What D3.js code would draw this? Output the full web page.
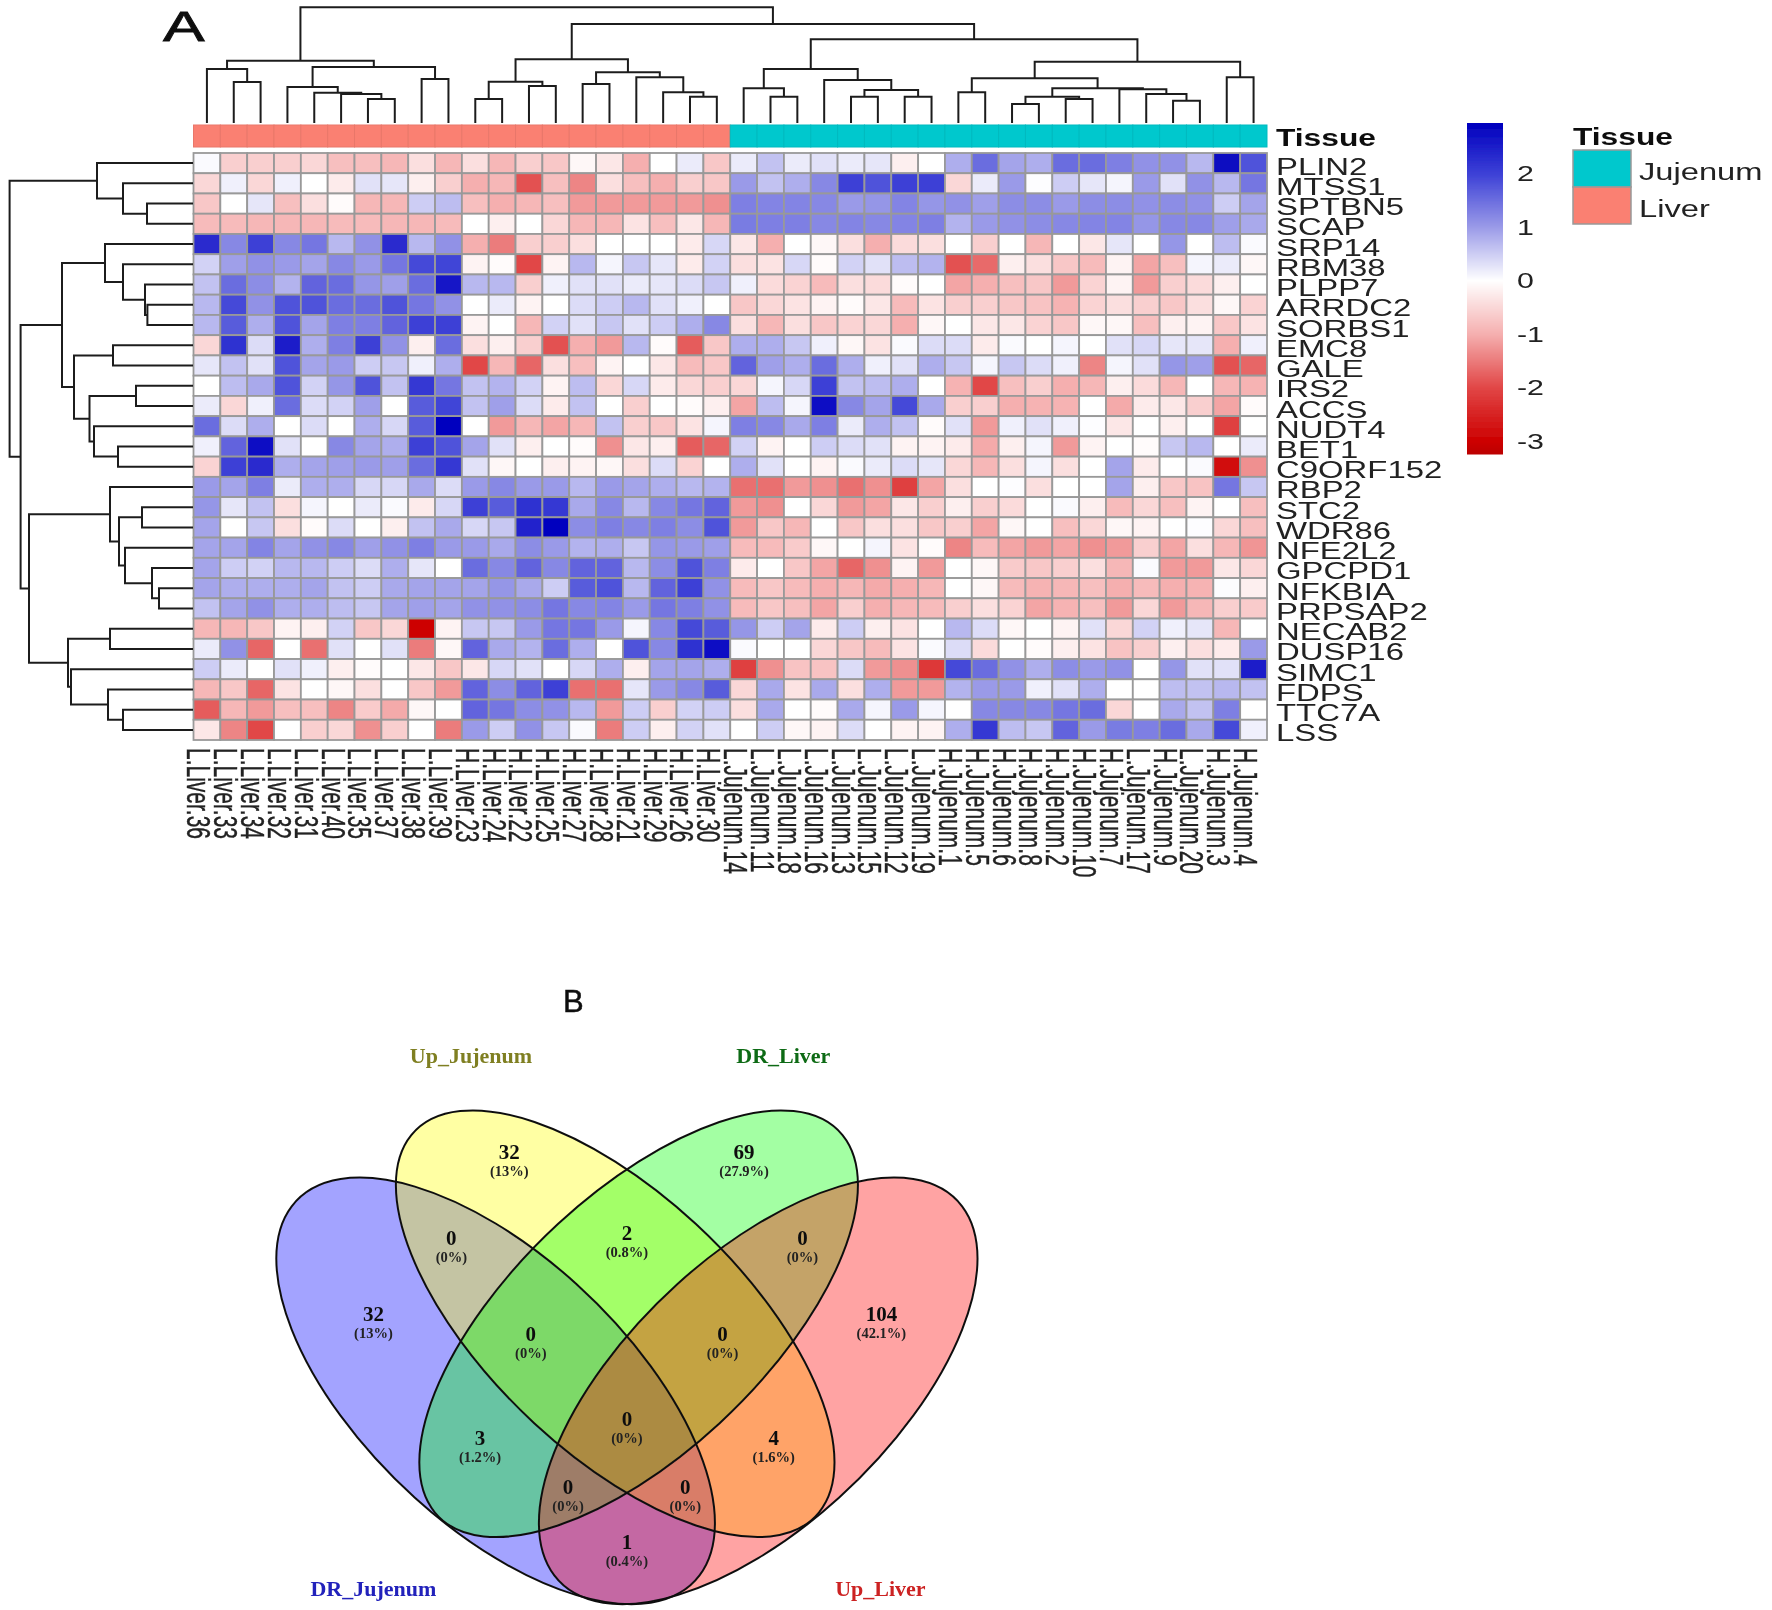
<!DOCTYPE html>
<html><head><meta charset="utf-8">
<script src="https://cdn.jsdelivr.net/npm/d3@7/dist/d3.min.js"></script>
<style>html,body{margin:0;padding:0;background:#fff}svg{display:block}</style>
</head><body><svg id="c" width="1772" height="1610"></svg>
<script>
const genes=["PLIN2","MTSS1","SPTBN5","SCAP","SRP14","RBM38","PLPP7","ARRDC2","SORBS1","EMC8","GALE","IRS2","ACCS","NUDT4","BET1","C9ORF152","RBP2","STC2","WDR86","NFE2L2","GPCPD1","NFKBIA","PRPSAP2","NECAB2","DUSP16","SIMC1","FDPS","TTC7A","LSS"];
const samples=["L.Liver.36","L.Liver.33","L.Liver.34","L.Liver.32","L.Liver.31","L.Liver.40","L.Liver.35","L.Liver.37","L.Liver.38","L.Liver.39","H.Liver.23","H.Liver.24","H.Liver.22","H.Liver.25","H.Liver.27","H.Liver.28","H.Liver.21","H.Liver.29","H.Liver.26","H.Liver.30","L.Jujenum.14","L.Jujenum.11","L.Jujenum.18","L.Jujenum.16","L.Jujenum.13","L.Jujenum.15","L.Jujenum.12","L.Jujenum.19","H.Jujenum.1","H.Jujenum.5","H.Jujenum.6","H.Jujenum.8","H.Jujenum.2","H.Jujenum.10","H.Jujenum.7","L.Jujenum.17","H.Jujenum.9","L.Jujenum.20","H.Jujenum.3","H.Jujenum.4"];
const tissue=samples.map(s=>s.includes("Liver")?"Liver":"Jujenum");
const expr=[
[.05,-.6,-.6,-.6,-.5,-.8,-.8,-.9,-.4,-.9,-.4,-.9,-.6,-.7,-.1,-.3,-1,0,.2,-.7,.2,.6,.2,.3,.2,.25,-.2,0,.8,1.5,.9,.8,1.5,1.5,1.3,1.1,1.1,.7,2.8,1.8],
[-.5,.15,-.5,.15,0,-.25,.3,.25,-.2,-.6,-1,-.9,-1.9,-.8,-1.4,-.4,-.8,-1,-.6,-.7,1,.6,.8,1.2,2,1.8,2,2,-.5,.2,1,.02,.5,.25,.1,1,.3,1.1,.7,1.4],
[-.7,0,.25,-.8,-.4,-.05,-.9,-.9,.5,.65,-.8,-1,-.9,-.8,-1.2,-1.2,-1.2,-1.2,-1.2,-1.3,1.3,1.25,1.25,1.2,1,1.05,1.25,1.05,1.1,.95,1.15,1.15,1,1.15,1.15,1.1,1.15,1.1,.5,.9],
[-.85,-.85,-.9,-.9,-.9,-.85,-.85,-.9,-.9,-.85,0,-.2,0,-.5,-.9,-.9,-.35,-.8,-.3,-.9,1.35,1.3,1.3,1.2,1.25,1.2,1.25,1.3,.75,1,1.1,1.15,1.2,1.25,1.25,1.05,1.2,1.2,.95,.85],
[2.3,1.2,2,1.2,1.4,.7,1.1,2.3,.7,1.1,-1,-1.5,-.6,-.6,-.4,0,0,0,-.25,.4,-.3,-1,0,-.1,-.4,-1,-.45,-.4,0,-.6,0,-.9,0,-.3,.25,0,1.05,0,.65,.05],
[.45,.95,1.1,1,.9,1.2,1,1.4,1.9,1.95,-.15,-.05,-2,-.15,.7,.1,.55,.25,-.25,.45,-.4,-.35,.4,-.05,.45,.3,.65,.75,-1.9,-1.65,-.2,-.4,-.7,-.85,-.15,-1.1,-.8,.1,.2,-.1],
[.6,1.5,1.15,.75,1.6,1.5,1.05,.95,1.5,2.6,.7,.7,-.6,.15,.3,.3,.2,.25,.35,.55,.15,-.45,-.55,-.85,-.4,-.45,-.05,0,-1.1,-1,-.8,-.7,-1.2,-.55,-.15,-1.2,-.6,-.45,-.2,0],
[.7,1.9,1.1,1.8,1.8,1.5,1.5,1.8,1.4,1.1,0,.2,-.15,0,.35,.5,.7,.3,.15,0,-.7,-.5,-.35,-.15,-.05,-.3,-.85,-.35,-.6,-.6,-.7,-.75,-.95,-.55,-.4,-.6,-.7,-.4,-.1,-.55],
[.7,1.7,.8,1.8,.9,1.3,1.3,1.6,2,2,-.15,0,-.9,.45,.3,.55,.3,.5,.8,1.2,-.4,-.9,-.4,-.7,-.55,-.5,-1,-.1,0,-.3,-.3,-.55,-.7,-.1,-.1,-.8,-.2,-.15,-.7,-.35],
[-.5,2.2,.35,2.5,.8,1.3,2,1.1,-.2,1.5,-.4,-.2,-.6,-1.9,-1,-1.2,.7,-.05,-1.8,-.7,.8,.8,.55,.15,-.1,-.35,.05,.35,.35,-.25,.05,0,.1,0,.3,.4,.25,.25,-1,.15],
[.25,.6,.3,1.8,.9,1,.5,.55,.15,.8,-2,-.9,-1.7,-.4,-.8,-.15,0,-.3,-.85,-.7,1.6,.95,.8,1.5,.8,.15,.3,.8,.55,.1,.55,.35,.15,-1.4,.1,.3,1.05,.95,-1.9,-1.7],
[0,.65,.85,1.8,.45,1.05,1.8,.6,2.1,1.4,.6,.75,.45,-.15,.65,-.5,.4,-.25,-.5,-.6,-.5,.1,.4,2,.6,.65,.8,0,-.95,-2,-.8,-.6,-1,-.9,-.2,-.45,-.9,0,-.9,-.95],
[.2,-.5,.15,1.5,.35,.45,.95,0,1.7,1.95,.6,.95,.35,-.25,.6,0,-.6,0,-.05,-.2,-1.1,.65,.1,2.7,1.2,.9,1.9,.85,-.6,-.6,-1,-.95,-.95,0,-1.05,-.25,-.3,-.6,-1.1,-.05],
[1.5,.35,.8,0,.35,0,.8,.4,1.7,2.9,0,-1.2,-.9,-1.1,-.9,.6,-.6,-.7,-.35,.1,1.3,1.2,.85,1.3,.2,.8,.6,-.05,.3,-1.2,.15,.3,.15,.02,-.3,0,-.2,0,-2.1,0],
[.15,1.6,2.7,.3,0,1.2,.9,.8,2,1.8,.9,.3,-.2,0,-.05,-1.3,-.3,-.2,-1.8,-1.7,.45,-.15,0,.5,.35,.3,-.15,-.15,-.25,-1.05,-.2,.1,-1.2,-.15,0,-.05,.55,.7,0,.2],
[-.55,2,2.3,.8,.9,.95,1,.95,1.5,2.1,.3,-.1,0,-.2,-.15,-.1,-.4,.35,-.55,0,.8,.3,0,-.15,.05,.2,.35,.25,-.5,-.9,-.4,.1,-.4,0,.9,-.25,0,.05,-2.8,-1.3],
[1,.9,1.3,.2,.8,.8,.4,.4,.85,.35,1,1.2,1,1,.7,1,.9,.8,.7,.75,-1.6,-1.6,-1.2,-1.3,-1.6,-1.3,-2.1,-1.1,-.4,0,.02,-.4,0,0,.9,-.2,-.7,-.75,1.4,.55],
[1.05,.25,.6,-.4,.1,0,.2,.05,-.25,.4,2,1.7,2.2,2.1,.85,1.2,.7,1.2,1.4,1.6,-1.2,-1.3,0,-.5,-1.2,-1.1,-.3,-.6,-.2,-.6,-.45,0,.05,-.2,-.85,-.5,-.8,-.15,0,-.8],
[.9,0,.55,-.4,-.05,.35,0,-.2,.6,.85,.4,.55,2.4,2.9,1.15,1.3,1.2,1.3,1.15,1.8,-1.2,-.7,-.9,0,-.7,-.4,-.4,-.7,-.6,-1.1,-.1,0,-.8,-.5,-.1,-.15,0,.02,-.5,-.8],
[.9,.9,1.25,.9,1.1,1.2,.95,1.1,1.3,1,1,.85,1.15,1,.75,.8,.55,1.05,1,.95,-.85,-.85,-.65,-.1,0,.1,-.35,-.05,-1.4,-.85,-1.1,-1.2,-1.1,-1.3,-1.2,-.6,-1.1,-.4,-.9,-1.25],
[.9,.5,.45,.7,.7,.5,.35,.8,.25,0,1.5,1.2,1.6,1.2,1.6,1.6,.7,1.15,1.8,1.3,-.25,0,-.7,-1.1,-1.7,-1.3,-.15,-1.2,0,-.1,-.65,-.7,-.6,-.4,-.9,.05,-1.2,-1.2,-.3,-.5],
[.9,.8,.8,.8,.9,.6,.5,.85,.9,.9,.9,1.05,.85,.5,1.7,1.8,.7,1.6,2,1.1,-.85,-.7,-.85,-1,-.9,-1.05,-1,-.9,0,-.1,-.85,-.95,-.9,-.8,-1,-.85,-1,-.95,.03,-.2],
[.6,.9,1.1,.8,.8,.65,.55,.9,.95,.9,1.1,1.1,1.15,1.4,1.2,1.25,1,1.4,1.3,1.1,-.85,-.7,-.8,-1.1,-.6,-1,-.9,-.85,-.6,-.4,-.55,-1.1,-.95,-.8,-1.2,-.5,-1.2,-.9,-.6,-.65],
[-.9,-.9,-.7,-.15,-.2,.45,-.7,-.5,-3,-.15,.55,.55,1,1.4,1.4,1,.1,1.2,1.9,1.7,1.05,.5,.9,-.25,.5,-.2,-.35,0,.7,.35,-.1,0,-.15,.3,-.5,.45,.15,.25,-.9,0],
[.2,1.1,-1.7,0,-1.6,.3,0,.3,-1.5,-.1,1.6,.85,.75,1.5,.8,0,1.8,1.2,2.2,2.7,.05,0,0,-.5,-.7,-.85,-.35,.05,.35,-.45,0,-.05,-.2,-.35,-.75,-.6,-.2,-.4,-.25,1],
[.5,.2,0,.3,.15,-.2,-.05,0,-.3,-.7,-.3,.4,.3,0,.4,.8,-.2,.9,.9,.8,-2.1,-1.3,-.75,-.75,.35,-1.2,-1.3,-2.2,1.9,1.5,1.1,.8,1.15,1,1.1,0,1.05,.3,.3,2.5],
[-.9,-.7,-1.7,-.35,0,-.1,-.4,0,-.7,-1.2,1.6,1.15,1.6,2,-1.6,-1.6,.25,1,1.2,1.7,-.5,.85,-.35,.85,-.4,.8,-1.2,-1.2,.75,1,1,.15,.3,.8,0,0,.65,.6,.7,.6],
[-1.8,-.9,-1.2,-.8,-.8,-1.4,-.65,-1.05,-.1,0,1.6,1.4,1.15,1.1,.7,-1.2,.5,-.6,.45,.5,-.4,.85,0,-.05,.85,.1,1,.1,0,1.2,1.2,1.2,1.4,1.5,-.5,0,.85,.6,1.3,0],
[-.3,-1.4,-2,0,-.6,-.5,-1.3,-.6,0,-1.5,1,.5,1.1,.55,.05,-1.5,.5,-.2,.45,.3,0,.5,-.1,-.15,.35,0,-.15,-.15,.8,2.1,.65,.55,1.6,1,1.35,1.3,1.5,.85,1.9,.15]
];
// dendrograms: [height, left, right]; a number is a leaf index
const colTree=[115.7,
 [62.3,[54,0,[41,1,2]],[56,[36,3,[30.3,4,[29,5,[24,6,7]]]],[44,8,9]]],
 [99,
  [63.7,[41.3,[24,10,11],[37,12,13]],[50.7,[39,14,15],[45.7,16,[30.7,17,[26.3,18,19]]]]],
  [83.7,
   [54,[34.7,20,[26.3,21,22]],[43,23,[33,[26.3,24,25],[26.3,26,27]]]],
   [61.3,[44.7,[30.7,28,29],[34.7,[26.3,[19,30,31],[24,32,33]],[33.7,34,[29,35,[22.3,36,37]]]]],[45.7,38,39]]]]];
const rowTree=[183.4,
 [96,0,[70,1,[46,2,3]]],
 [172.4,
  [131,
   [88,4,[70,5,[48,6,[45.6,7,8]]]],
   [119,[80,9,10],[103.5,[57,11,12],[99,13,[75,14,15]]]]],
  [164,
   [83,16,[74,[51,17,18],[68,19,[41,20,[34,21,22]]]]],
   [125,[83,23,24],[122,25,[85,26,[70,27,28]]]]]]];
const colorStops=[-3.24,-3,-2,-1,0,1,2,2.93];
const colorRamp=["#bb0000","#cd0000","#e14646","#f5afaf","#ffffff","#9a9ae8","#3c40d6","#0000be"];
const legendTicks=[2,1,0,-1,-2,-3];
const tissues=["Jujenum","Liver"];
const tissueColors={Jujenum:"#00c8cd",Liver:"#fa8072"};
// Venn
const vennSets=[{name:"DR_Jujenum",c:"#0000ff",t:"#2222bb"},{name:"Up_Jujenum",c:"#ffff00",t:"#7f7f20"},{name:"DR_Liver",c:"#00ff00",t:"#0f6b12"},{name:"Up_Liver",c:"#ff0000",t:"#cc2222"}];
const vennCounts=[32,32,69,104,0,2,0,0,0,3,0,4,0,0,1];
const vennPcts=["13%","13%","27.9%","42.1%","0%","0.8%","0%","0%","0%","1.2%","0%","1.6%","0%","0%","0.4%"];
// ---- layout only ----
const vennEllipses=[[513.5,1019],[763.5,852.5],[812.5,852.5],[1062.5,1019]];
const vennCorr=[.62,.65,-.65,-.62];
const vennLabelAt=[[258,828],[542,427],[1033,427],[1320,828],[421,640],[788,627],[1155,640],[587,877],[988,877],[481,1135],[788,1088],[1095,1135],[665,1258],[910,1258],[788,1393]];
const vennTitleAt=[[258,1512],[462,190],[1115,190],[1318,1512]];

const svg=d3.select("#c");
const defs=svg.append("defs");
defs.append("filter").attr("id","soft").attr("x","0").attr("y","0").attr("width","1").attr("height","1").attr("filterUnits","objectBoundingBox")
  .append("feGaussianBlur").attr("stdDeviation",.7);
const root=svg.append("g").attr("filter","url(#soft)");
root.append("rect").attr("width",1772).attr("height",1610).attr("fill","#fff");
const SANS="'Liberation Sans',Arial,sans-serif", SERIF="'Liberation Serif','Times New Roman',serif";

const x=d3.scaleBand().domain(d3.range(samples.length)).range([193.5,1267]);
const y=d3.scaleBand().domain(d3.range(genes.length)).range([153,740]);
const color=d3.scaleLinear().domain(colorStops).range(colorRamp).clamp(true);

// annotation bar
root.append("g").selectAll("rect").data(tissue).join("rect")
 .attr("x",(d,i)=>x(i)).attr("width",x.bandwidth()).attr("y",125).attr("height",22)
 .attr("fill",d=>tissueColors[d]).attr("stroke",d=>d3.color(tissueColors[d]).darker(.2)).attr("stroke-width",1);

// heat cells
root.append("g").selectAll("g").data(expr).join("g").attr("transform",(d,i)=>`translate(0,${y(i)})`)
 .selectAll("rect").data(d=>d).join("rect")
 .attr("x",(d,i)=>x(i)).attr("width",x.bandwidth()).attr("height",y.bandwidth())
 .attr("fill",d=>color(d)).attr("stroke","#999").attr("stroke-width",1.8);

// dendrograms
function layout(n,leafPos){
  if(typeof n==="number")return {p:leafPos(n),h:0};
  const a=layout(n[1],leafPos),b=layout(n[2],leafPos);
  const node={p:(a.p+b.p)/2,h:n[0],a,b};
  return node;
}
function walk(n,fn){if(n.a){fn(n);walk(n.a,fn);walk(n.b,fn);}}
const colH=d3.scaleLinear().domain([0,116]).range([123,7]);
const rowH=d3.scaleLinear().domain([0,184]).range([193,9]);
const colRoot=layout(colTree,i=>x(i)+x.bandwidth()/2);
const rowRoot=layout(rowTree,i=>y(i)+y.bandwidth()/2);
const colMerges=[],rowMerges=[];walk(colRoot,m=>colMerges.push(m));walk(rowRoot,m=>rowMerges.push(m));
root.append("g").attr("fill","none").attr("stroke","#1c1c1c").attr("stroke-width",2)
 .selectAll("path").data(colMerges).join("path")
 .attr("d",m=>{const p=d3.path();p.moveTo(m.a.p,colH(m.a.h));p.lineTo(m.a.p,colH(m.h));p.lineTo(m.b.p,colH(m.h));p.lineTo(m.b.p,colH(m.b.h));return p.toString();});
root.append("g").attr("fill","none").attr("stroke","#1c1c1c").attr("stroke-width",2)
 .selectAll("path").data(rowMerges).join("path")
 .attr("d",m=>{const p=d3.path();p.moveTo(rowH(m.a.h),m.a.p);p.lineTo(rowH(m.h),m.a.p);p.lineTo(rowH(m.h),m.b.p);p.lineTo(rowH(m.b.h),m.b.p);return p.toString();});

// row labels
const SX=1.4;
root.append("g").selectAll("text").data(genes).join("text")
 .attr("transform",(d,i)=>`translate(1276,${y(i)+y.bandwidth()/2+11.5}) scale(${SX},1)`)
 .attr("font-family",SANS).attr("font-size",23.5).attr("fill","#222").text(d=>d);
// column labels
root.append("g").selectAll("text").data(samples).join("text")
 .attr("transform",(d,i)=>`translate(${x(i)+x.bandwidth()/2-19.5},748) scale(1.6,1) rotate(90)`)
 .attr("font-family",SANS).attr("font-size",21).attr("fill","#222").attr("stroke","#222").attr("stroke-width",.25).text(d=>d);
// annotation title
root.append("text").attr("transform",`translate(1276,146) scale(1.38,1)`)
 .attr("font-family",SANS).attr("font-weight","bold").attr("font-size",23).attr("fill","#111").text("Tissue");

// colour bar
const tickY=d3.scaleLinear().domain([2,-3]).range([173,441]);
const barVals=d3.range(0,331);
root.append("g").selectAll("rect").data(barVals).join("rect")
 .attr("x",1467).attr("width",36).attr("y",d=>123+d).attr("height",1.5)
 .attr("fill",d=>color(tickY.invert(123+d)));
root.append("g").selectAll("text").data(legendTicks).join("text")
 .attr("transform",d=>`translate(1517,${tickY(d)+8}) scale(1.38,1)`)
 .attr("font-family",SANS).attr("font-size",22).attr("fill","#222").text(d=>d);

// legend
root.append("text").attr("transform",`translate(1573,145) scale(1.38,1)`)
 .attr("font-family",SANS).attr("font-weight","bold").attr("font-size",23).attr("fill","#111").text("Tissue");
root.append("g").selectAll("rect").data(tissues).join("rect")
 .attr("x",1573).attr("width",58).attr("y",(d,i)=>150+37*i).attr("height",37)
 .attr("fill",d=>tissueColors[d]).attr("stroke","#999").attr("stroke-width",1.5);
root.append("g").selectAll("text").data(tissues).join("text")
 .attr("transform",(d,i)=>`translate(1639,${180+37*i}) scale(1.42,1)`)
 .attr("font-family",SANS).attr("font-size",23).attr("fill","#222").text(d=>d);

// panel letters
root.append("text").attr("transform","translate(163,41) scale(1.45,1)").attr("font-family",SANS).attr("font-size",43).attr("fill","#111").attr("stroke","#111").attr("stroke-width",.8).text("A");
root.append("text").attr("x",563).attr("y",1012).attr("font-family",SANS).attr("font-size",31).attr("fill","#111").attr("stroke","#111").attr("stroke-width",.5).text("B");

// Venn
const vx=d3.scaleLinear().domain([0,1568]).range([250,1000]);
const vy=d3.scaleLinear().domain([0,1560]).range([980,1609]);
const HW=vx(458.5)-vx(0), HH=vy(529)-vy(0);
const venn=root.append("g");
const ell=(d,i)=>{const r=vennCorr[i];return `matrix(${HW},${r*HH},0,${HH*Math.sqrt(1-r*r)},${vx(vennEllipses[i][0])},${vy(vennEllipses[i][1])})`;};
venn.selectAll("circle.f").data(vennSets).join("circle").attr("class","f").attr("r",1)
 .attr("transform",ell).attr("fill",d=>d.c).attr("fill-opacity",.36).attr("stroke","none");
venn.selectAll("circle.s").data(vennSets).join("circle").attr("class","s").attr("r",1)
 .attr("transform",ell).attr("fill","none").attr("stroke","#111").attr("stroke-width",2).attr("vector-effect","non-scaling-stroke");
venn.selectAll("text.n").data(vennCounts).join("text").attr("class","n")
 .attr("x",(d,i)=>vx(vennLabelAt[i][0])).attr("y",(d,i)=>vy(vennLabelAt[i][1])+7).attr("text-anchor","middle")
 .attr("font-family",SERIF).attr("font-weight","bold").attr("font-size",21).attr("fill","#111").text(d=>d);
venn.selectAll("text.p").data(vennPcts).join("text").attr("class","p")
 .attr("x",(d,i)=>vx(vennLabelAt[i][0])).attr("y",(d,i)=>vy(vennLabelAt[i][1])+24).attr("text-anchor","middle")
 .attr("font-family",SERIF).attr("font-weight","bold").attr("font-size",14.5).attr("fill","#222").text(d=>`(${d})`);
venn.selectAll("text.t").data(vennSets).join("text").attr("class","t")
 .attr("x",(d,i)=>vx(vennTitleAt[i][0])).attr("y",(d,i)=>vy(vennTitleAt[i][1])+6).attr("text-anchor","middle")
 .attr("font-family",SERIF).attr("font-weight","bold").attr("font-size",22).attr("fill",d=>d.t).text(d=>d.name);
</script></body></html>
